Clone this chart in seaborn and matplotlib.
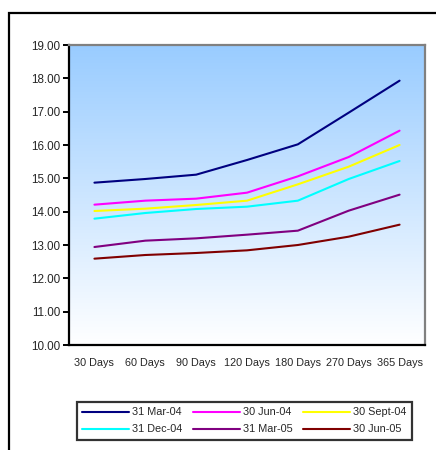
import numpy as np
import pandas as pd
import matplotlib
matplotlib.use("Agg")
import matplotlib.pyplot as plt
from matplotlib.patches import Rectangle
from matplotlib.colors import LinearSegmentedColormap
import seaborn as sns

# Yield curve snapshots by tenor
tenors = ["30 Days", "60 Days", "90 Days", "120 Days", "180 Days", "270 Days", "365 Days"]
mar_04 = [14.87, 14.98, 15.11, 15.55, 16.02, 16.97, 17.93]
jun_04 = [14.21, 14.33, 14.39, 14.57, 15.06, 15.64, 16.43]
sep_04 = [14.02, 14.09, 14.20, 14.33, 14.82, 15.35, 16.00]
dec_04 = [13.79, 13.96, 14.08, 14.15, 14.33, 14.98, 15.52]
mar_05 = [12.94, 13.13, 13.20, 13.31, 13.43, 14.03, 14.51]
jun_05 = [12.59, 12.70, 12.76, 12.84, 13.00, 13.25, 13.61]

series_names = ["31 Mar-04", "30 Jun-04", "30 Sept-04", "31 Dec-04", "31 Mar-05", "30 Jun-05"]
series_values = [mar_04, jun_04, sep_04, dec_04, mar_05, jun_05]
series_colors = ["#000080", "#FF00FF", "#FFFF00", "#00FFFF", "#800080", "#800000"]
y_ticks = [10, 11, 12, 13, 14, 15, 16, 17, 18, 19]

rows = []
for name, vals in zip(series_names, series_values):
    for i, (t, v) in enumerate(zip(tenors, vals)):
        rows.append({"pos": i, "tenor": t, "rate": v, "series": name})
df = pd.DataFrame(rows)

sns.set_style("white")
plt.rcParams["font.family"] = ["Liberation Sans", "DejaVu Sans"]
plt.rcParams["font.size"] = 7.8

fig = plt.figure(figsize=(4.36, 4.5), dpi=100)

# outer chart frame (runs off the right and bottom edges)
fig.patches.append(Rectangle((9 / 436, -0.1), 1.2, 1 - 13 / 450 + 0.1,
                             transform=fig.transFigure, fill=False,
                             edgecolor="black", linewidth=1.6, zorder=0))

ax = fig.add_axes([69 / 436, 1 - 345 / 450, (425 - 69) / 436, 300 / 450])

# vertical gradient fill of the plot area
grad_cmap = LinearSegmentedColormap.from_list("sky", ["#FFFFFF", "#99CCFF"])
grad = np.linspace(0, 1, 256).reshape(-1, 1)
ax.imshow(grad, cmap=grad_cmap, aspect="auto", origin="lower",
          extent=[-0.5, len(tenors) - 0.5, 10, 19], zorder=0)

sns.lineplot(data=df, x="pos", y="rate", hue="series", hue_order=series_names,
             palette=series_colors, linewidth=1.5, ax=ax, legend=True, zorder=3)

ax.set_xlim(-0.5, len(tenors) - 0.5)
ax.set_ylim(10, 19)
ax.set_yticks(y_ticks)
ax.set_yticklabels([f"{v:.2f}" for v in y_ticks], fontsize=8.4)
ax.set_xticks(range(len(tenors)))
ax.set_xticklabels(tenors, fontsize=7.8)
ax.set_xticks(np.arange(-0.5, len(tenors), 1.0), minor=True)
ax.tick_params(axis="x", which="major", length=0, pad=9)
ax.tick_params(axis="x", which="minor", length=4, width=1.4, color="black", direction="out")
ax.tick_params(axis="y", length=4, width=1.4, color="black", direction="out", pad=2, left=True)
ax.set_xlabel("")
ax.set_ylabel("")
for side in ["left", "bottom"]:
    ax.spines[side].set_color("black")
    ax.spines[side].set_linewidth(1.6)
for side in ["top", "right"]:
    ax.spines[side].set_color("#808080")
    ax.spines[side].set_linewidth(1.6)
for s in ax.spines.values():
    s.set_zorder(5)

handles, labels = ax.get_legend_handles_labels()
ax.get_legend().remove()
order = [0, 3, 1, 4, 2, 5]
leg = fig.legend([handles[i] for i in order], [labels[i] for i in order],
                 loc="upper left", ncol=3, mode="expand",
                 bbox_to_anchor=(77 / 436, 0.02, (412 - 77) / 436, 1 - 402 / 450 - 0.02),
                 borderaxespad=0, frameon=True, fancybox=False,
                 handlelength=4.3, handletextpad=0.3, columnspacing=0.6,
                 labelspacing=0.65, borderpad=0.5, fontsize=7.8)
leg.get_frame().set_edgecolor("black")
leg.get_frame().set_linewidth(1.6)

fig.savefig("out.png", dpi=100)
